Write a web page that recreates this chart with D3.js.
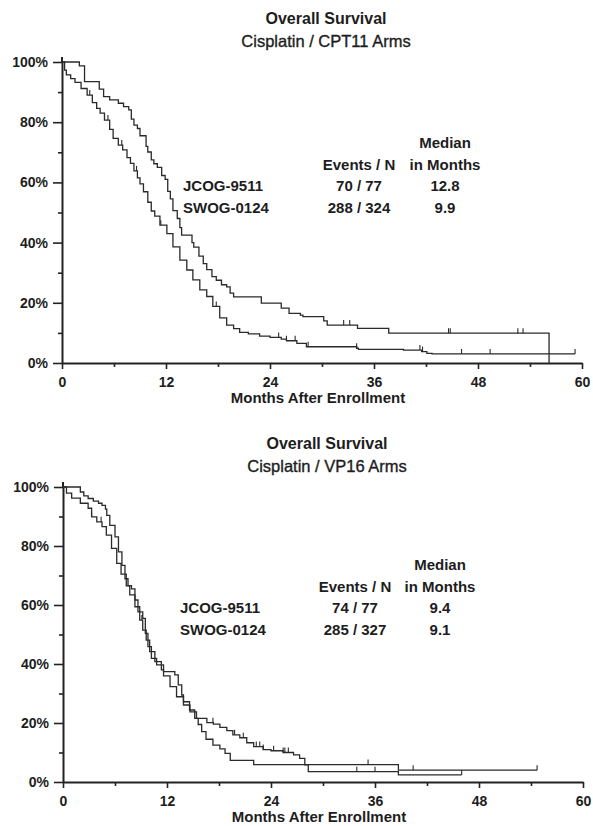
<!DOCTYPE html>
<html>
<head>
<meta charset="utf-8">
<script src="https://cdn.jsdelivr.net/npm/d3@7"></script>
<style>
  body { margin: 0; background: #fff; }
  svg text { font-family: "Liberation Sans", Arial, Helvetica, sans-serif; fill: #1d1d1d; }
  .axis path { stroke: #222; stroke-width: 2; }
  .axis line { stroke: #222; stroke-width: 1.6; }
  .axis text { font-size: 14px; font-weight: bold; }
  .curve { fill: none; stroke: #2a2a2a; stroke-width: 1.3; }
  .censor { stroke: #2a2a2a; stroke-width: 1.1; }
</style>
</head>
<body>
<svg id="chart" width="593" height="826"></svg>
<script>
// ---- shared axis values ----
const monthTicks = [0, 12, 24, 36, 48, 60];
const monthMinor = [6, 18, 30, 42, 54];
const pctTicks = [0, 20, 40, 60, 80, 100];
const pctMinor = [10, 30, 50, 70, 90];
const armNames = ['JCOG-9511', 'SWOG-0124'];

// ---- Cisplatin / CPT11 arms : [month, survival %] ----
const cptJcog = [[0,100],[2.0,98.7],[2.6,93.5],[4.3,91.0],[4.8,88.5],[5.5,87.4],[6.5,86.3],[7.1,85.2],[7.7,84.1],
  [8.0,81.0],[8.3,79.0],[8.7,77.9],[9.0,75.5],[9.7,72.0],[9.9,70.1],[10.3,67.5],[10.6,66.2],[11.0,65.0],
  [11.5,62.3],[11.9,61.0],[12.2,57.0],[12.5,54.5],[12.8,50.6],[13.3,48.0],[13.6,45.0],[13.8,42.5],[15.0,40.0],
  [15.2,38.5],[15.8,35.5],[16.3,33.0],[16.7,31.0],[17.3,28.7],[17.8,27.5],[18.4,26.0],[19.0,25.3],[19.4,23.2],
  [19.8,22.0],[23.0,19.9],[25.3,18.2],[26.2,16.5],[27.5,15.9],[27.8,15.4],[30.2,14.0],[30.6,12.6],[34.1,11.5],
  [37.7,9.9],[56.2,0]];
const cptSwog = [[0,100],[0.3,97.3],[0.5,95.7],[1.0,94.5],[1.5,93.2],[2.2,91.2],[2.9,89.0],[3.5,86.5],[4.0,84.6],
  [4.4,83.0],[4.9,80.7],[5.5,77.6],[5.9,74.6],[6.5,72.4],[7.0,70.8],[7.5,68.2],[7.9,66.3],[8.3,63.8],[8.7,61.5],
  [9.0,59.5],[9.4,56.9],[9.9,53.4],[10.3,50.5],[10.7,48.8],[11.3,45.8],[12.1,43.0],[12.8,38.6],[13.6,34.2],
  [14.4,30.9],[15.1,27.6],[15.9,24.3],[16.7,22.1],[17.4,18.8],[18.2,15.0],[19.0,12.6],[19.8,11.4],[20.5,10.2],
  [21.5,9.7],[22.8,8.9],[24.0,8.5],[25.3,7.9],[25.9,7.4],[27.1,6.5],[28.2,5.4],[34.0,4.9],[34.2,4.5],[39.4,4.3],
  [41.5,3.8],[42.1,3.2],[42.7,3.0],[59.2,3.0]];
const cptJcogCensor = [32.5, 33.2, 44.6, 44.8, 52.6, 53.2];
const cptSwogCensor = [3.2, 5.3, 6.9, 8.6, 11.4, 17.8, 25.0, 25.9, 26.9, 28.4, 34.0, 41.3, 41.6, 46.1, 49.4, 59.2];
const cptEvents = ['70 / 77', '288 / 324'];
const cptMedian = ['12.8', '9.9'];

// ---- Cisplatin / VP16 arms ----
const vpJcog = [[0,100],[2.0,98.3],[2.4,97.0],[2.9,96.1],[3.5,95.2],[4.1,94.5],[4.5,93.8],[4.9,92.5],[5.05,90.4],
  [5.4,87.0],[6.0,83.1],[6.4,78.0],[6.8,73.4],[7.15,68.9],[7.5,66.6],[7.9,65.5],[8.3,61.7],[8.65,57.7],[9.2,55.5],
  [9.5,50.4],[9.8,45.9],[10.2,41.9],[10.8,39.7],[11.6,37.4],[12.9,36.3],[13.3,32.9],[13.7,29.5],[13.9,27.2],
  [14.6,24.4],[15.2,21.6],[15.6,19.5],[16.0,17.1],[16.5,14.5],[17.3,12.5],[18.1,11.2],[18.7,9.7],[19.3,7.3],
  [22.0,5.9],[38.7,4.0],[54.7,4.0]];
const vpSwog = [[0,100],[0.4,97.9],[1.0,96.2],[2.0,94.5],[2.9,92.8],[3.3,89.9],[3.9,88.2],[4.5,86.6],[5.0,83.7],
  [5.6,79.2],[6.2,74.1],[6.7,70.5],[7.3,66.5],[7.7,63.4],[8.3,59.4],[8.85,54.9],[9.2,51.5],[9.6,48.1],[10.0,44.2],
  [10.6,40.8],[11.35,38.0],[11.6,36.0],[12.35,32.3],[13.1,28.9],[13.9,26.1],[14.65,23.8],[15.4,21.6],[16.6,20.1],
  [17.35,19.6],[18.1,18.5],[18.9,17.4],[19.6,16.0],[20.4,15.0],[21.2,13.3],[22.0,12.0],[23.1,11.0],[24.0,10.6],
  [25.4,10.0],[26.6,9.2],[27.3,8.0],[27.9,5.8],[28.3,3.5],[38.7,2.4],[46.0,2.4]];
const vpJcogCensor = [35.2, 40.4, 54.7];
const vpSwogCensor = [3.3, 4.4, 9.1, 17.3, 19.8, 20.8, 22.3, 22.7, 23.1, 24.3, 25.4, 25.6, 26.0, 33.9, 36.0, 46.0];
const vpEvents = ['74 / 77', '285 / 327'];
const vpMedian = ['9.4', '9.1'];

class SurvivalChart {

  constructor(_config, _data) {
    this.config = {
      parentElement: _config.parentElement,
      left: _config.left,
      top: _config.top,
      width: _config.width || 520,
      height: _config.height || 300,
      title: _config.title,
      subtitle: _config.subtitle,
      legend: _config.legend
    };
    this.data = _data;
    this.initVis();
  }

  initVis() {
    let vis = this;
    const c = vis.config;

    vis.chart = d3.select(c.parentElement).append('g')
      .attr('transform', `translate(${c.left},${c.top})`);

    vis.xScale = d3.scaleLinear().domain([0, 60]).range([0, c.width]);
    vis.yScale = d3.scaleLinear().domain([0, 100]).range([c.height, 0]);

    // titles
    vis.chart.append('text')
      .attr('x', c.width / 2 + 4).attr('y', -38)
      .attr('text-anchor', 'middle')
      .attr('font-size', '16px').attr('font-weight', 'bold')
      .text(c.title);
    vis.chart.append('text')
      .attr('x', c.width / 2 + 4).attr('y', -15)
      .attr('text-anchor', 'middle')
      .attr('font-size', '16.5px')
      .style('stroke', '#1d1d1d').style('stroke-width', 0.35)
      .text(c.subtitle);

    // axes
    vis.xAxisG = vis.chart.append('g').attr('class', 'axis x-axis')
      .attr('transform', `translate(0,${c.height})`);
    vis.xMinorG = vis.chart.append('g').attr('class', 'axis')
      .attr('transform', `translate(0,${c.height})`);
    vis.yAxisG = vis.chart.append('g').attr('class', 'axis y-axis');
    vis.yMinorG = vis.chart.append('g').attr('class', 'axis');

    vis.xAxis = d3.axisBottom(vis.xScale).tickValues(monthTicks)
      .tickSize(6).tickPadding(8).tickSizeOuter(0);
    vis.xMinor = d3.axisBottom(vis.xScale).tickValues(monthMinor)
      .tickSize(4).tickFormat('').tickSizeOuter(0);
    vis.yAxis = d3.axisLeft(vis.yScale).tickValues(pctTicks)
      .tickSize(9).tickPadding(5).tickSizeOuter(0).tickFormat(d => d + '%');
    vis.yMinor = d3.axisLeft(vis.yScale).tickValues(pctMinor)
      .tickSize(4).tickFormat('').tickSizeOuter(0);

    vis.chart.append('text')
      .attr('x', c.width / 2 - 4).attr('y', c.height + 40)
      .attr('text-anchor', 'middle')
      .attr('font-size', '15px').attr('font-weight', 'bold')
      .text('Months After Enrollment');

    vis.renderVis();
  }

  renderVis() {
    let vis = this;
    const c = vis.config;

    vis.xAxisG.call(vis.xAxis);
    vis.xMinorG.call(vis.xMinor);
    vis.xMinorG.select('.domain').remove();
    vis.yAxisG.call(vis.yAxis);
    vis.yMinorG.call(vis.yMinor);
    vis.yMinorG.select('.domain').remove();

    // y axis runs a little past 100%
    vis.chart.append('line')
      .attr('x1', 0).attr('x2', 0)
      .attr('y1', vis.yScale(100)).attr('y2', vis.yScale(100) - 5)
      .attr('stroke', '#222').attr('stroke-width', 2);

    const line = d3.line()
      .x(d => vis.xScale(d[0]))
      .y(d => vis.yScale(d[1]))
      .curve(d3.curveStepAfter);

    const bis = d3.bisector(d => d[0]).right;
    const survAt = (steps, t) => steps[Math.max(0, bis(steps, t) - 1)][1];

    vis.data.forEach(arm => {
      vis.chart.append('path')
        .attr('class', 'curve')
        .attr('d', line(arm.steps));

      vis.chart.selectAll(null)
        .data(arm.censor)
        .join('line')
          .attr('class', 'censor')
          .attr('x1', d => vis.xScale(d)).attr('x2', d => vis.xScale(d))
          .attr('y1', d => vis.yScale(survAt(arm.steps, d)))
          .attr('y2', d => vis.yScale(survAt(arm.steps, d)) - 5);
    });

    // legend table
    const lg = c.legend;
    const tb = vis.chart.append('g').attr('font-size', '15px').attr('font-weight', 'bold');
    tb.append('text').attr('x', lg.medianX).attr('y', lg.rows[0])
      .attr('text-anchor', 'middle').text('Median');
    tb.append('text').attr('x', lg.eventsX).attr('y', lg.rows[1])
      .attr('text-anchor', 'middle').text('Events / N');
    tb.append('text').attr('x', lg.medianX).attr('y', lg.rows[1])
      .attr('text-anchor', 'middle').text('in Months');

    vis.data.forEach((arm, i) => {
      const y = lg.rows[2 + i];
      tb.append('text').attr('x', lg.nameX).attr('y', y).text(arm.name);
      tb.append('text').attr('x', lg.eventsX).attr('y', y)
        .attr('text-anchor', 'middle').text(arm.events);
      tb.append('text').attr('x', lg.medianX).attr('y', y)
        .attr('text-anchor', 'middle').text(arm.median);
    });
  }
}

new SurvivalChart({
  parentElement: '#chart', left: 62, top: 62, width: 520, height: 301,
  title: 'Overall Survival', subtitle: 'Cisplatin / CPT11 Arms',
  legend: { nameX: 121, eventsX: 297, medianX: 383, rows: [86, 107.5, 129, 151] }
}, [
  { name: armNames[0], steps: cptJcog, censor: cptJcogCensor, events: cptEvents[0], median: cptMedian[0] },
  { name: armNames[1], steps: cptSwog, censor: cptSwogCensor, events: cptEvents[1], median: cptMedian[1] }
]);

new SurvivalChart({
  parentElement: '#chart', left: 63, top: 487, width: 520, height: 295,
  title: 'Overall Survival', subtitle: 'Cisplatin / VP16 Arms',
  legend: { nameX: 117, eventsX: 292, medianX: 377, rows: [83, 105, 126, 148] }
}, [
  { name: armNames[0], steps: vpJcog, censor: vpJcogCensor, events: vpEvents[0], median: vpMedian[0] },
  { name: armNames[1], steps: vpSwog, censor: vpSwogCensor, events: vpEvents[1], median: vpMedian[1] }
]);
</script>
</body>
</html>
